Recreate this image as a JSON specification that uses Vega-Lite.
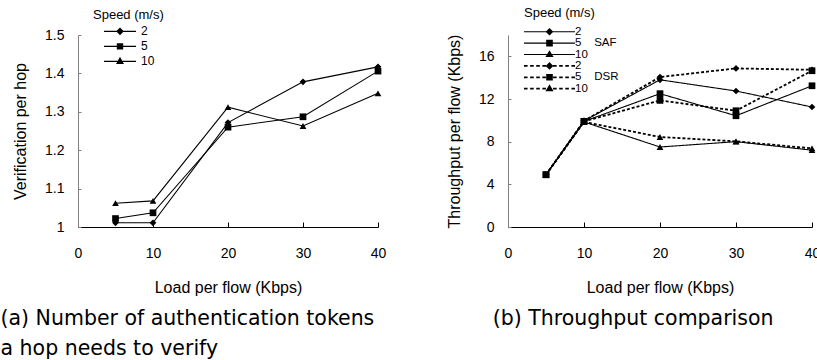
{
  "$schema": "https://vega.github.io/schema/vega-lite/v6.json",
  "padding": {"left": 0, "top": 7, "right": 0, "bottom": 0},
  "autosize": {"type": "pad"},
  "background": "white",
  "datasets": {
    "a": [
      {"speed": 2, "load": 5, "value": 1.011},
      {"speed": 2, "load": 10, "value": 1.011},
      {"speed": 2, "load": 20, "value": 1.272},
      {"speed": 2, "load": 30, "value": 1.378},
      {"speed": 2, "load": 40, "value": 1.417},
      {"speed": 5, "load": 5, "value": 1.022},
      {"speed": 5, "load": 10, "value": 1.037},
      {"speed": 5, "load": 20, "value": 1.26},
      {"speed": 5, "load": 30, "value": 1.287},
      {"speed": 5, "load": 40, "value": 1.406},
      {"speed": 10, "load": 5, "value": 1.062},
      {"speed": 10, "load": 10, "value": 1.068},
      {"speed": 10, "load": 20, "value": 1.312},
      {"speed": 10, "load": 30, "value": 1.263},
      {"speed": 10, "load": 40, "value": 1.348}
    ],
    "b": [
      {"series": "SAF-2", "proto": "SAF", "speed": 2, "load": 5, "value": 4.9},
      {"series": "SAF-2", "proto": "SAF", "speed": 2, "load": 10, "value": 9.95},
      {"series": "SAF-2", "proto": "SAF", "speed": 2, "load": 20, "value": 13.8},
      {"series": "SAF-2", "proto": "SAF", "speed": 2, "load": 30, "value": 12.75},
      {"series": "SAF-2", "proto": "SAF", "speed": 2, "load": 40, "value": 11.25},
      {"series": "SAF-5", "proto": "SAF", "speed": 5, "load": 5, "value": 4.9},
      {"series": "SAF-5", "proto": "SAF", "speed": 5, "load": 10, "value": 9.9},
      {"series": "SAF-5", "proto": "SAF", "speed": 5, "load": 20, "value": 12.5},
      {"series": "SAF-5", "proto": "SAF", "speed": 5, "load": 30, "value": 10.43},
      {"series": "SAF-5", "proto": "SAF", "speed": 5, "load": 40, "value": 13.24},
      {"series": "SAF-10", "proto": "SAF", "speed": 10, "load": 5, "value": 4.9},
      {"series": "SAF-10", "proto": "SAF", "speed": 10, "load": 10, "value": 9.85},
      {"series": "SAF-10", "proto": "SAF", "speed": 10, "load": 20, "value": 7.5},
      {"series": "SAF-10", "proto": "SAF", "speed": 10, "load": 30, "value": 8.0},
      {"series": "SAF-10", "proto": "SAF", "speed": 10, "load": 40, "value": 7.2},
      {"series": "DSR-2", "proto": "DSR", "speed": 2, "load": 5, "value": 4.9},
      {"series": "DSR-2", "proto": "DSR", "speed": 2, "load": 10, "value": 9.95},
      {"series": "DSR-2", "proto": "DSR", "speed": 2, "load": 20, "value": 14.06},
      {"series": "DSR-2", "proto": "DSR", "speed": 2, "load": 30, "value": 14.87},
      {"series": "DSR-2", "proto": "DSR", "speed": 2, "load": 40, "value": 14.74},
      {"series": "DSR-5", "proto": "DSR", "speed": 5, "load": 5, "value": 4.9},
      {"series": "DSR-5", "proto": "DSR", "speed": 5, "load": 10, "value": 9.9},
      {"series": "DSR-5", "proto": "DSR", "speed": 5, "load": 20, "value": 11.87},
      {"series": "DSR-5", "proto": "DSR", "speed": 5, "load": 30, "value": 10.9},
      {"series": "DSR-5", "proto": "DSR", "speed": 5, "load": 40, "value": 14.65},
      {"series": "DSR-10", "proto": "DSR", "speed": 10, "load": 5, "value": 4.9},
      {"series": "DSR-10", "proto": "DSR", "speed": 10, "load": 10, "value": 9.85},
      {"series": "DSR-10", "proto": "DSR", "speed": 10, "load": 20, "value": 8.44},
      {"series": "DSR-10", "proto": "DSR", "speed": 10, "load": 30, "value": 8.03},
      {"series": "DSR-10", "proto": "DSR", "speed": 10, "load": 40, "value": 7.37}
    ]
  },
  "config": {
    "view": {"stroke": null},
    "font": "Liberation Sans",
    "axis": {
      "grid": false,
      "labelFont": "Liberation Sans",
      "labelFontSize": 14,
      "labelColor": "black",
      "titleFont": "Liberation Sans",
      "titleFontSize": 16,
      "titleFontWeight": "normal",
      "titleColor": "black",
      "domainColor": "black",
      "tickColor": "black",
      "labelFlush": false,
      "labelOverlap": false
    },
    "legend": {
      "orient": "none",
      "padding": 0,
      "titleFont": "Liberation Sans",
      "titleFontSize": 13,
      "titleFontWeight": "normal",
      "titleColor": "black",
      "labelFont": "Liberation Sans",
      "labelFontSize": 12,
      "labelColor": "black",
      "labelLimit": 300
    },
    "title": {
      "font": "DejaVu Sans",
      "fontSize": 20.5,
      "fontWeight": "normal",
      "color": "black",
      "lineHeight": 30
    }
  },
  "bounds": "flush",
  "spacing": 130,
  "hconcat": [
    {
      "width": 300,
      "height": 192,
      "title": {
        "text": ["(a) Number of authentication tokens", "a hop needs to verify"],
        "orient": "bottom",
        "anchor": "start",
        "frame": "bounds",
        "offset": 14,
        "dx": -12
      },
      "data": {"name": "a"},
      "encoding": {
        "x": {
          "field": "load",
          "type": "quantitative",
          "scale": {"domain": [0, 40], "nice": false, "zero": false},
          "axis": {"values": [0, 10, 20, 30, 40], "title": "Load per flow (Kbps)", "tickSize": -5, "labelPadding": 24, "titlePadding": 19, "labelAngle": 0}
        },
        "y": {
          "field": "value",
          "type": "quantitative",
          "scale": {"domain": [1, 1.5], "nice": false, "zero": false},
          "axis": {"values": [1, 1.1, 1.2, 1.3, 1.4, 1.5], "format": "~g", "title": "Verification per hop", "tickSize": -3, "labelPadding": 17, "titlePadding": 16, "domainColor": "#808080", "tickColor": "#808080"}
        }
      },
      "layer": [
        {
          "mark": {"type": "line", "color": "black", "strokeWidth": 1.1},
          "encoding": {"detail": {"field": "speed"}}
        },
        {
          "mark": {"type": "point", "filled": true, "color": "black", "size": 45, "opacity": 1},
          "encoding": {
            "shape": {"field": "speed", "type": "nominal", "scale": {"domain": [2, 5, 10], "range": ["diamond", "square", "triangle-up"]}, "legend": null}
          }
        },
        {
          "transform": [{"filter": "datum.load < 0"}],
          "mark": {"type": "point", "filled": true, "color": "black", "opacity": 1},
          "encoding": {
            "shape": {
              "field": "speed",
              "type": "nominal",
              "scale": {"domain": [2, 5, 10], "range": [
                "M-1,-0.035H1V0.035H-1ZM0,-0.24L0.24,0L0,0.24L-0.24,0Z",
                "M-1,-0.035H1V0.035H-1ZM-0.2,-0.2H0.2V0.2H-0.2Z",
                "M-1,-0.035H1V0.035H-1ZM0,-0.28L0.25,0.16H-0.25Z"
              ]},
              "legend": {
                "title": "Speed (m/s)",
                "legendX": 15,
                "legendY": -26,
                "symbolSize": 1024,
                "symbolStrokeWidth": 0,
                "symbolFillColor": "black",
                "symbolOffset": 11,
                "labelOffset": 5,
                "clipHeight": 12.7,
                "rowPadding": 2,
                "titlePadding": 3
              }
            }
          }
        }
      ],
      "resolve": {"scale": {"shape": "independent"}}
    },
    {
      "width": 304,
      "height": 192,
      "title": {
        "text": "(b) Throughput comparison",
        "orient": "bottom",
        "anchor": "middle",
        "frame": "bounds",
        "offset": 14
      },
      "data": {"name": "b"},
      "encoding": {
        "x": {
          "field": "load",
          "type": "quantitative",
          "scale": {"domain": [0, 40], "nice": false, "zero": false},
          "axis": {"values": [0, 10, 20, 30, 40], "title": "Load per flow (Kbps)", "tickSize": -5, "labelPadding": 24, "titlePadding": 19, "labelAngle": 0}
        },
        "y": {
          "field": "value",
          "type": "quantitative",
          "scale": {"domain": [0, 18], "nice": false, "zero": false},
          "axis": {"values": [0, 4, 8, 12, 16], "title": "Throughput per flow (Kbps)", "tickSize": -3, "labelPadding": 17, "titlePadding": 16, "domainColor": "#808080", "tickColor": "#808080"}
        }
      },
      "layer": [
        {
          "mark": {"type": "line", "color": "black"},
          "encoding": {
            "detail": {"field": "series"},
            "strokeDash": {"field": "proto", "type": "nominal", "scale": {"domain": ["SAF", "DSR"], "range": [[1, 0], [3, 2]]}, "legend": null},
            "strokeWidth": {"field": "proto", "type": "ordinal", "scale": {"domain": ["SAF", "DSR"], "range": [1.1, 1.8]}, "legend": null}
          }
        },
        {
          "mark": {"type": "point", "filled": true, "color": "black", "size": 45, "opacity": 1},
          "encoding": {
            "shape": {"field": "speed", "type": "nominal", "scale": {"domain": [2, 5, 10], "range": ["diamond", "square", "triangle-up"]}, "legend": null}
          }
        },
        {
          "transform": [{"filter": "datum.load < 0"}],
          "mark": {"type": "point", "filled": true, "color": "black", "opacity": 1},
          "encoding": {
            "shape": {
              "field": "series",
              "type": "nominal",
              "scale": {"domain": ["SAF-2", "SAF-5", "SAF-10", "DSR-2", "DSR-5", "DSR-10"], "range": [
                "M-1,-0.022H1V0.022H-1ZM0,-0.15L0.15,0L0,0.15L-0.15,0Z",
                "M-1,-0.022H1V0.022H-1ZM-0.13,-0.13H0.13V0.13H-0.13Z",
                "M-1,-0.022H1V0.022H-1ZM0,-0.17L0.16,0.1H-0.16Z",
                "M-1,-0.035H-0.86V0.035H-1ZM-0.76,-0.035H-0.62V0.035H-0.76ZM-0.52,-0.035H-0.38V0.035H-0.52ZM-0.28,-0.035H-0.14V0.035H-0.28ZM0.14,-0.035H0.28V0.035H0.14ZM0.38,-0.035H0.52V0.035H0.38ZM0.62,-0.035H0.76V0.035H0.62ZM0.86,-0.035H1V0.035H0.86ZM0,-0.15L0.15,0L0,0.15L-0.15,0Z",
                "M-1,-0.035H-0.86V0.035H-1ZM-0.76,-0.035H-0.62V0.035H-0.76ZM-0.52,-0.035H-0.38V0.035H-0.52ZM-0.28,-0.035H-0.14V0.035H-0.28ZM0.14,-0.035H0.28V0.035H0.14ZM0.38,-0.035H0.52V0.035H0.38ZM0.62,-0.035H0.76V0.035H0.62ZM0.86,-0.035H1V0.035H0.86ZM-0.13,-0.13H0.13V0.13H-0.13Z",
                "M-1,-0.035H-0.86V0.035H-1ZM-0.76,-0.035H-0.62V0.035H-0.76ZM-0.52,-0.035H-0.38V0.035H-0.52ZM-0.28,-0.035H-0.14V0.035H-0.28ZM0.14,-0.035H0.28V0.035H0.14ZM0.38,-0.035H0.52V0.035H0.38ZM0.62,-0.035H0.76V0.035H0.62ZM0.86,-0.035H1V0.035H0.86ZM0,-0.17L0.16,0.1H-0.16Z"
              ]},
              "legend": {
                "title": "Speed (m/s)",
                "legendX": 16,
                "legendY": -28,
                "symbolSize": 2601,
                "symbolStrokeWidth": 0,
                "symbolFillColor": "black",
                "labelOffset": 0,
                "labelFontSize": 11.5,
                "clipHeight": 9.4,
                "rowPadding": -1.6,
                "titlePadding": 7,
                "labelExpr": "datum.label == 'SAF-5' ? '5\u00a0\u00a0\u00a0\u00a0SAF' : datum.label == 'DSR-5' ? '5\u00a0\u00a0\u00a0\u00a0DSR' : split(datum.label, '-')[1]"
              }
            }
          }
        }
      ],
      "resolve": {"scale": {"shape": "independent"}}
    }
  ]
}
